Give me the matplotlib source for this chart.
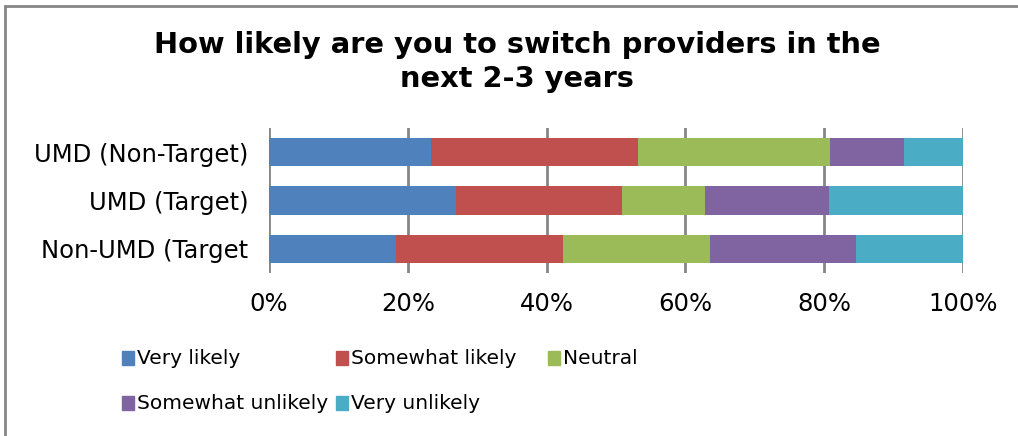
import numpy as np
import matplotlib.pyplot as plt
from matplotlib.patches import Rectangle

plt.rcParams['font.family'] = ['DejaVu Sans']

groups = ['UMD (Non-Target)', 'UMD (Target)', 'Non-UMD (Target']
answers = ['Very likely', 'Somewhat likely', 'Neutral', 'Somewhat unlikely', 'Very unlikely']
colors = ['#4f81bd', '#c0504d', '#9bbb59', '#8064a2', '#4bacc6']

# share of respondents (%) per answer, one list per group
very_likely = [23.4, 26.9, 18.3]
somewhat_likely = [29.8, 23.9, 24.0]
neutral = [27.7, 12.0, 21.2]
somewhat_unlikely = [10.6, 17.9, 21.1]
very_unlikely = [8.5, 19.3, 15.4]

series = [very_likely, somewhat_likely, neutral, somewhat_unlikely, very_unlikely]

W, H = 1018, 436
fig = plt.figure(figsize=(W / 100, H / 100), dpi=100)
ax = fig.add_axes([269 / W, 1 - 273 / H, 694 / W, 145 / H])

ypos = np.arange(len(groups))[::-1]
left = np.zeros(len(groups))
for vals, c, name in zip(series, colors, answers):
    ax.barh(ypos, vals, left=left, height=0.58, color=c, label=name, zorder=2)
    left += np.array(vals)

ax.set_xlim(0, 100)
ax.set_ylim(-0.5, 2.5)
ax.set_xticks(range(0, 101, 20))
ax.set_xticklabels([f'{v}%' for v in range(0, 101, 20)], fontsize=17.5)
ax.set_yticks(ypos)
ax.set_yticklabels(groups, fontsize=17.5)
ax.tick_params(length=0)
ax.tick_params(axis='y', pad=15)
ax.tick_params(axis='x', pad=14)
ax.grid(axis='x', color='#868686', linewidth=2, zorder=0)
for s in ax.spines.values():
    s.set_visible(False)

fig.text(0.508, 1 - 62 / H, 'How likely are you to switch providers in the\nnext 2-3 years',
         ha='center', va='center', fontsize=20.8, fontweight='bold', linespacing=1.3)

# legend laid out by hand: three columns, two rows
cols_x = [122, 336, 548]
rows_y = [358, 403]
for i, (name, c) in enumerate(zip(answers, colors)):
    x = cols_x[i % 3]
    y = rows_y[i // 3]
    fig.patches.append(Rectangle((x / W, 1 - (y + 7) / H), 12 / W, 14 / H,
                                 transform=fig.transFigure, color=c))
    fig.text((x + 15) / W, 1 - y / H, name, fontsize=14.5, va='center', ha='left')

# outer chart frame
fig.patches.append(Rectangle((5 / W, -0.2), 1.2, 1.2 - 5.5 / H, transform=fig.transFigure,
                             fill=False, edgecolor='#868686', linewidth=2))

fig.savefig('out.png', dpi=100)
